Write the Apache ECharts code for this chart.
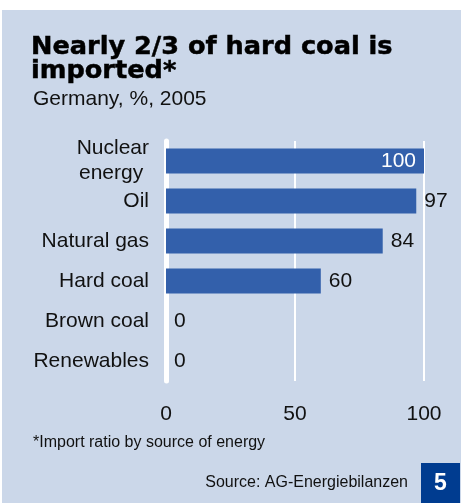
<!DOCTYPE html>
<html>
<head>
<meta charset="utf-8">
<script src="https://cdn.jsdelivr.net/npm/echarts@6/dist/echarts.min.js"></script>
<style>
html,body{margin:0;padding:0;background:#fff;}
#c{width:461px;height:503px;}
</style>
</head>
<body>
<div id="c"></div>
<script>
var categories = ['Nuclear\nenergy ', 'Oil', 'Natural gas', 'Hard coal', 'Brown coal', 'Renewables'];
var values = [100, 97, 84, 60, 0, 0];
var xTicks = [0, 50, 100];

var chart = echarts.init(document.getElementById('c'));
var FONT = 'Liberation Sans, Arial, Helvetica, sans-serif';
var barData = values.map(function (v, i) {
  if (i === 0) {
    return { value: v, label: { position: 'insideRight', color: '#ffffff', distance: 8 } };
  }
  return v;
});

chart.setOption({
  animation: false,
  backgroundColor: '#ffffff',
  graphic: [
    { type: 'rect', z: -10, shape: { x: 2, y: 10, width: 459, height: 493 }, style: { fill: '#cbd7e9' } },
    { type: 'rect', z: 10, shape: { x: 421, y: 463, width: 39, height: 40 }, style: { fill: '#003c90' } },
    { type: 'text', z: 11, style: { x: 440.5, y: 484, text: '5', fill: '#ffffff', font: 'bold 23px ' + FONT, textAlign: 'center', textVerticalAlign: 'middle' } },
    { type: 'text', z: 11, style: { x: 408, y: 483, text: 'Source: AG-Energiebilanzen', fill: '#111111', font: '16px ' + FONT, textAlign: 'right', textVerticalAlign: 'middle' } },
    { type: 'text', z: 11, style: { x: 33, y: 443, text: '*Import ratio by source of energy', fill: '#111111', font: '16px ' + FONT, textAlign: 'left', textVerticalAlign: 'middle' } }
  ],
  title: [
    {
      text: 'Nearly 2/3 of hard coal is\nimported*',
      left: 31, top: 35, padding: 0,
      textStyle: { fontFamily: 'DejaVu Sans', fontWeight: 'bold', fontSize: 25.6, lineHeight: 24, color: '#000000', textBorderColor: '#000000', textBorderWidth: 0.5 }
    },
    {
      text: 'Germany, %, 2005',
      left: 33, top: 89, padding: 0,
      textStyle: { fontFamily: FONT, fontWeight: 'normal', fontSize: 21, lineHeight: 21, color: '#111111' }
    }
  ],
  grid: { left: 166, right: 37, top: 141, height: 240, containLabel: false },
  xAxis: {
    type: 'value', min: 0, max: 100, interval: 50,
    axisLine: { show: false }, axisTick: { show: false },
    splitLine: { show: true, lineStyle: { color: '#ffffff', width: 2 } },
    axisLabel: {
      margin: 23, fontSize: 21, color: '#111111', fontFamily: FONT,
      formatter: function (v) { return xTicks.indexOf(v) >= 0 ? String(v) : ''; }
    }
  },
  yAxis: {
    type: 'category', data: categories, inverse: true,
    axisLine: { show: true, lineStyle: { color: '#ffffff', width: 5 } },
    axisTick: { show: false },
    axisLabel: { margin: 17, fontSize: 21, lineHeight: 25, color: '#111111', fontFamily: FONT, align: 'right' }
  },
  series: [{
    type: 'bar', data: barData, barWidth: 25,
    itemStyle: { color: '#3360ab' },
    label: { show: true, position: 'right', distance: 8, fontSize: 21, color: '#111111', fontFamily: FONT }
  }]
});
</script>
</body>
</html>
